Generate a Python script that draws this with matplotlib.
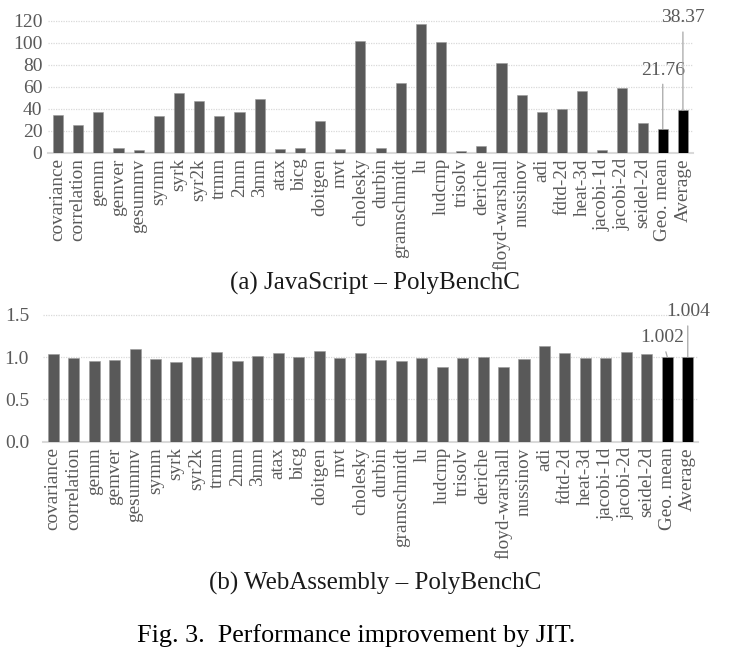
import numpy as np
import matplotlib
matplotlib.use("Agg")
import matplotlib.pyplot as plt

plt.rcParams['font.family'] = ['Liberation Serif', 'DejaVu Serif']

benchmarks = ["covariance", "correlation", "gemm", "gemver", "gesummv", "symm",
              "syrk", "syr2k", "trmm", "2mm", "3mm", "atax", "bicg", "doitgen",
              "mvt", "cholesky", "durbin", "gramschmidt", "lu", "ludcmp",
              "trisolv", "deriche", "floyd-warshall", "nussinov", "adi",
              "fdtd-2d", "heat-3d", "jacobi-1d", "jacobi-2d", "seidel-2d",
              "Geo. mean", "Average"]

# (a) JavaScript speedups
js_vals = [34.5, 24.9, 36.7, 4.5, 2.2, 33.4, 54.5, 47.0, 33.6, 37.0, 48.8,
           3.6, 4.3, 29.0, 3.0, 101.5, 4.5, 63.6, 116.7, 100.4, 1.5, 6.0,
           81.2, 52.1, 36.7, 40.0, 56.0, 2.7, 58.5, 27.3, 21.76, 38.37]

# (b) WebAssembly speedups
wasm_vals = [1.035, 0.99, 0.955, 0.97, 1.10, 0.98, 0.94, 1.00, 1.06, 0.95,
             1.01, 1.045, 1.00, 1.07, 0.985, 1.05, 0.965, 0.955, 0.995, 0.88,
             0.995, 1.005, 0.89, 0.98, 1.13, 1.055, 0.995, 0.995, 1.06, 1.035,
             1.002, 1.004]

GREY = "#595959"
GRID = "#d9d9d9"


def draw_panel(ax, vals, yticks, ylabels, ypad, width):
    x = np.arange(len(vals))
    colors = [GREY] * (len(vals) - 2) + ["black", "black"]
    ax.bar(x, vals, width=width, color=colors, edgecolor="#9a9a9a",
           linewidth=0.4, zorder=3)
    ax.set_xlim(-0.5, len(vals) - 0.5)
    ax.set_ylim(yticks[0], yticks[-1])
    ax.set_yticks(yticks)
    ax.set_yticklabels(ylabels)
    ax.set_xticks(x)
    ax.set_xticklabels(benchmarks, rotation=90)
    for t in yticks[1:]:
        ax.axhline(t, color=GRID, linestyle=(0, (1, 1)), linewidth=0.9,
                   zorder=1, clip_on=False)
    for s in ["top", "right", "left"]:
        ax.spines[s].set_visible(False)
    ax.spines["bottom"].set_color(GRID)
    ax.spines["bottom"].set_linewidth(1.5)
    ax.tick_params(axis="both", length=0, colors=GREY)
    ax.tick_params(axis="y", labelsize=14, pad=ypad)
    ax.tick_params(axis="x", labelsize=13.8, pad=4)


fig = plt.figure(figsize=(7.37, 6.63), dpi=100)

ax1 = fig.add_axes([0.0651, 0.7697, 0.8752, 0.1991])
draw_panel(ax1, js_vals, [0, 20, 40, 60, 80, 100, 120],
           ["0", "20", "40", "60", "80", "100", "120"], 4, 0.5)
n = len(js_vals)
ax1.annotate(f"{js_vals[-2]:.2f}", xy=(n - 2, js_vals[-2]), xytext=(n - 2, 75),
             ha="center", va="center", fontsize=14, color=GREY,
             annotation_clip=False,
             arrowprops=dict(arrowstyle="-", color="#a6a6a6", lw=0.9,
                             shrinkA=2, shrinkB=0))
ax1.annotate(f"{js_vals[-1]:.2f}", xy=(n - 1, js_vals[-1]), xytext=(n - 1, 122.5),
             ha="center", va="center", fontsize=14, color=GREY,
             annotation_clip=False,
             arrowprops=dict(arrowstyle="-", color="#a6a6a6", lw=0.9,
                             shrinkA=2, shrinkB=0))

ax2 = fig.add_axes([0.0583, 0.3338, 0.8888, 0.1911])
draw_panel(ax2, wasm_vals, [0.0, 0.5, 1.0, 1.5],
           ["0.0", "0.5", "1.0", "1.5"], 10, 0.54)
ax2.annotate(f"{wasm_vals[-2]:.3f}", xy=(n - 2, wasm_vals[-2]),
             xytext=(n - 2.26, 1.229), ha="center", va="center", fontsize=14,
             color=GREY, annotation_clip=False,
             arrowprops=dict(arrowstyle="-", color="#a6a6a6", lw=0.9,
                             shrinkA=2, shrinkB=0))
ax2.annotate(f"{wasm_vals[-1]:.3f}", xy=(n - 1, wasm_vals[-1]),
             xytext=(n - 1, 1.537), ha="center", va="center", fontsize=14,
             color=GREY, annotation_clip=False,
             arrowprops=dict(arrowstyle="-", color="#a6a6a6", lw=0.9,
                             shrinkA=2, shrinkB=0))

fig.text(0.509, 1 - 283 / 663, "(a) JavaScript \u2013 PolyBenchC",
         ha="center", va="center", fontsize=18, color="#1a1a1a")
fig.text(0.509, 1 - 583 / 663, "(b) WebAssembly \u2013 PolyBenchC",
         ha="center", va="center", fontsize=18, color="#1a1a1a")
fig.text(0.483, 1 - 636 / 663, "Fig. 3.  Performance improvement by JIT.",
         ha="center", va="center", fontsize=18.8, color="black")

fig.savefig("out.png", dpi=100, facecolor="white")
